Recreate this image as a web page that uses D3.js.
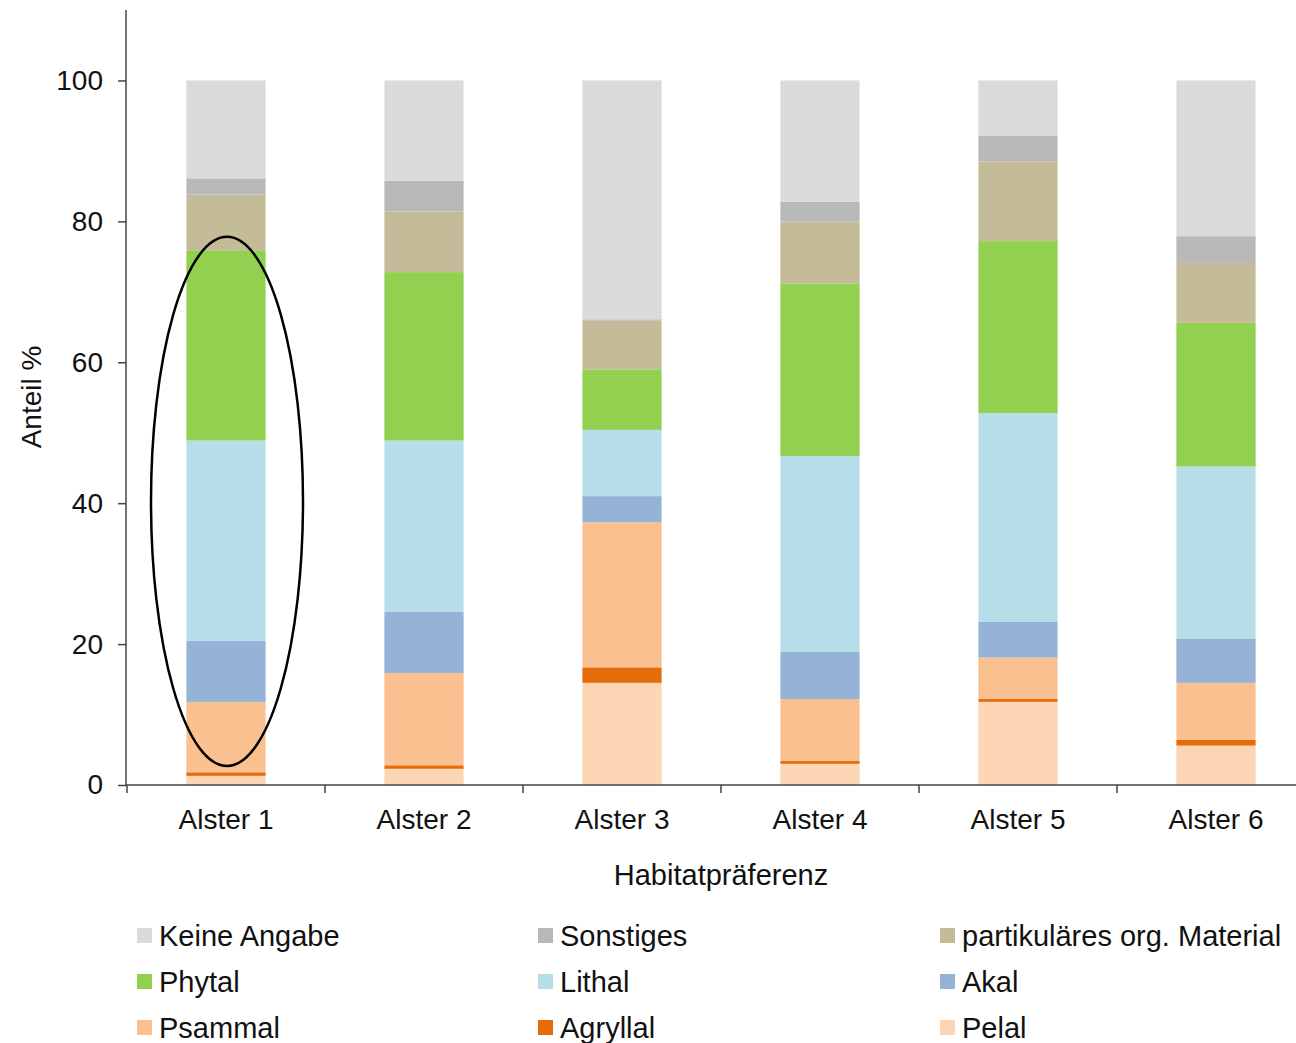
<!DOCTYPE html>
<html>
<head>
<meta charset="utf-8">
<script src="https://cdn.jsdelivr.net/npm/d3@7"></script>
<style>
  html, body { margin: 0; padding: 0; background: #fff; overflow: hidden; }
  text { font-family: "Liberation Sans", Arial, sans-serif; fill: #111; }
</style>
</head>
<body>
<svg id="chart" width="1296" height="1043"></svg>
<script>
// Sampling sites
const categories = ["Alster 1", "Alster 2", "Alster 3", "Alster 4", "Alster 5", "Alster 6"];

// Habitat preference shares (%) per site, stacked bottom to top
const pelal       = [1.3, 2.3, 14.5, 3.0, 11.8, 5.6];
const agryllal    = [0.5, 0.5, 2.2, 0.4, 0.4, 0.8];
const psammal     = [10.0, 13.1, 20.6, 8.8, 5.9, 8.1];
const akal        = [8.7, 8.7, 3.7, 6.7, 5.1, 6.3];
const lithal      = [28.4, 24.3, 9.4, 27.8, 29.6, 24.4];
const phytal      = [27.0, 23.9, 8.6, 24.5, 24.4, 20.4];
const pom         = [7.9, 8.6, 6.9, 8.8, 11.3, 8.5];
const sonstiges   = [2.3, 4.4, 0.2, 2.8, 3.7, 3.8];
const keineAngabe = [13.9, 14.2, 33.9, 17.2, 7.8, 22.1];

const seriesNames = ["Pelal", "Agryllal", "Psammal", "Akal", "Lithal", "Phytal",
                     "partikuläres org. Material", "Sonstiges", "Keine Angabe"];
const seriesValues = [pelal, agryllal, psammal, akal, lithal, phytal, pom, sonstiges, keineAngabe];
const seriesColors = ["#fcd5b5", "#e46c0a", "#fac090", "#95b3d7", "#b7dde8", "#92d050",
                      "#c4bc98", "#b9b9b9", "#dadada"];

// Legend reading order (row by row, three columns)
const legendOrder = ["Keine Angabe", "Sonstiges", "partikuläres org. Material",
                     "Phytal", "Lithal", "Akal",
                     "Psammal", "Agryllal", "Pelal"];

const yTicks = [0, 20, 40, 60, 80, 100];

const svg = d3.select("#chart");
const x = d3.scaleBand().domain(categories).range([127, 1315]).paddingInner(0.6).paddingOuter(0.3);
const y = d3.scaleLinear().domain([0, 110]).range([785, 10]);

// Stippled textures for the grey categories
const defs = svg.append("defs");
function stipple(id, base, dot) {
  const p = defs.append("pattern").attr("id", id).attr("patternUnits", "userSpaceOnUse")
    .attr("width", 4).attr("height", 4);
  p.append("rect").attr("width", 4).attr("height", 4).attr("fill", base);
  p.append("rect").attr("x", 0).attr("y", 0).attr("width", 1).attr("height", 1).attr("fill", dot);
  p.append("rect").attr("x", 2).attr("y", 2).attr("width", 1).attr("height", 1).attr("fill", dot);
  return `url(#${id})`;
}
const fills = seriesColors.slice();
fills[7] = stipple("stSon", "#bababa", "#aeaeae");
fills[8] = stipple("stKeine", "#dcdcdc", "#cfcfcf");

// Build the stack table
const table = categories.map((c, i) => {
  const row = { cat: c };
  seriesNames.forEach((n, k) => row[n] = seriesValues[k][i]);
  return row;
});
const stacked = d3.stack().keys(seriesNames)(table);

// Bars
const layers = svg.append("g").selectAll("g").data(stacked).join("g")
  .attr("fill", (d, k) => fills[k]);
layers.selectAll("rect").data(d => d).join("rect")
  .attr("x", d => x(d.data.cat))
  .attr("width", x.bandwidth())
  .attr("y", d => y(d[1]))
  .attr("height", d => Math.max(0, y(d[0]) - y(d[1])));

// Y axis
const yAxis = svg.append("g").attr("transform", "translate(126,0)")
  .call(d3.axisLeft(y).tickValues(yTicks).tickSize(8).tickPadding(15).tickSizeOuter(0));
yAxis.select(".domain").attr("stroke", "#444").attr("stroke-width", 1.5)
  .attr("d", `M0,${y(110)}V${y(0)}`);
yAxis.selectAll(".tick line").attr("stroke", "#444").attr("stroke-width", 1.5);
yAxis.selectAll(".tick text").attr("font-size", 28).attr("fill", "#111")
  .attr("font-family", "Liberation Sans, Arial, sans-serif");

// X axis with ticks between categories
const xAxis = svg.append("g").attr("transform", "translate(0,785)");
xAxis.append("line").attr("x1", 126).attr("x2", 1296).attr("y1", 0).attr("y2", 0)
  .attr("stroke", "#444").attr("stroke-width", 1.5);
const step = x.step();
const boundaryX = categories.map(c => x(c) + x.bandwidth() / 2 - step / 2)
  .concat([x(categories[categories.length - 1]) + x.bandwidth() / 2 + step / 2]);
xAxis.selectAll("line.tk").data(boundaryX).join("line").attr("class", "tk")
  .attr("x1", d => d).attr("x2", d => d).attr("y1", 0).attr("y2", 8)
  .attr("stroke", "#444").attr("stroke-width", 1.5);
xAxis.selectAll("text").data(categories).join("text")
  .attr("x", d => x(d) + x.bandwidth() / 2).attr("y", 44)
  .attr("text-anchor", "middle").attr("font-size", 28).text(d => d);

// Axis titles
svg.append("text").attr("transform", "translate(41,397) rotate(-90)")
  .attr("text-anchor", "middle").attr("font-size", 28).text("Anteil %");
svg.append("text").attr("x", 721).attr("y", 885)
  .attr("text-anchor", "middle").attr("font-size", 29).text("Habitatpräferenz");

// Highlight ellipse around the first site
const c0 = x(categories[0]) + x.bandwidth() / 2;
svg.append("ellipse").attr("cx", c0 + 1).attr("cy", (y(77.8) + y(2.7)) / 2)
  .attr("rx", 76).attr("ry", (y(2.7) - y(77.8)) / 2)
  .attr("fill", "none").attr("stroke", "#000").attr("stroke-width", 2.5);

// Legend
const colX = [137, 538, 940];
const rowY = [936, 982, 1028];
const legend = svg.append("g");
legendOrder.forEach((name, i) => {
  const k = seriesNames.indexOf(name);
  const gx = colX[i % 3], gy = rowY[Math.floor(i / 3)];
  legend.append("rect").attr("x", gx).attr("y", gy - 8).attr("width", 15).attr("height", 15)
    .attr("fill", fills[k]);
  legend.append("text").attr("x", gx + 22).attr("y", gy + 10)
    .attr("font-size", 29).text(name);
});
</script>
</body>
</html>
